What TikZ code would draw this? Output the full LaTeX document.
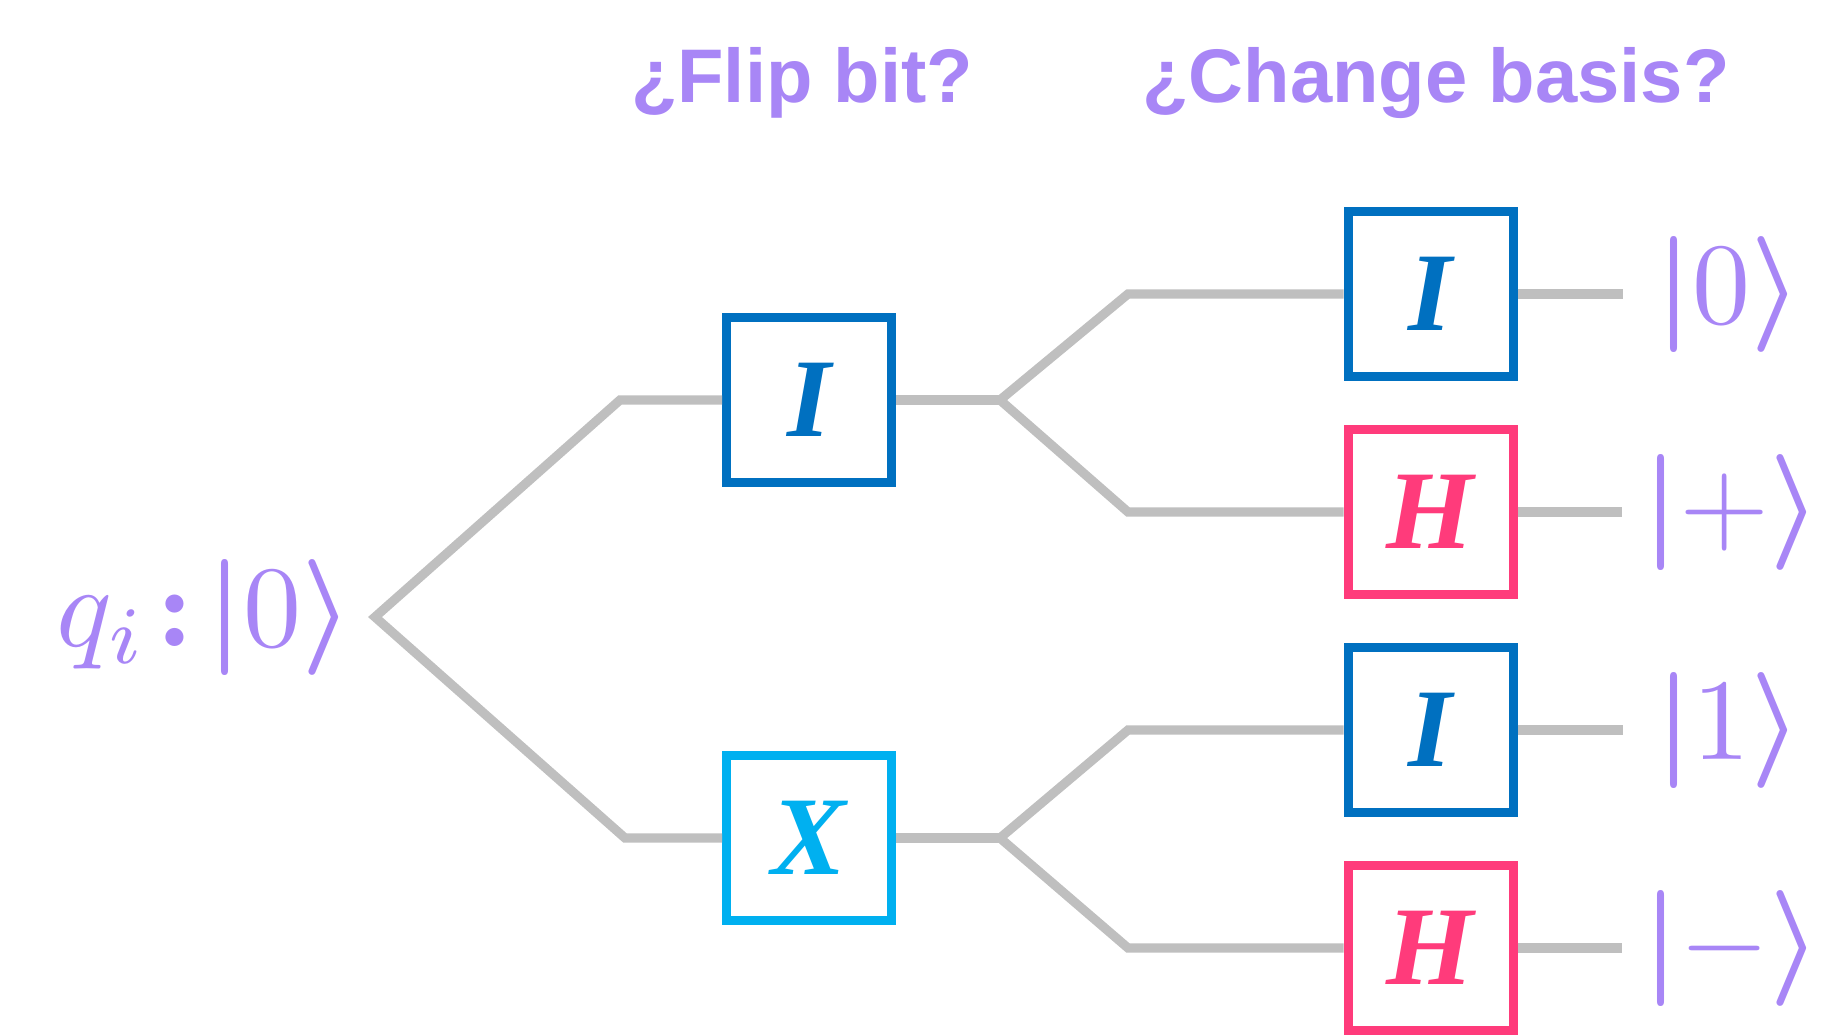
\documentclass[tikz,border=0pt]{standalone}
\usepackage{bm}
\usepackage{fontspec}
\newfontfamily\titlefont{Liberation Sans}
\newfontfamily\gatefont{Liberation Serif}
\definecolor{qpurple}{HTML}{A886F6}
\definecolor{wiregrey}{HTML}{BFBFBF}
\definecolor{gateblue}{HTML}{0070C0}
\definecolor{gatecyan}{HTML}{00B0F0}
\definecolor{gatepink}{HTML}{FF3B7B}
\newcommand{\myket}[1]{\bm{|}#1\bm{\rangle}}
\begin{document}
\begin{tikzpicture}[x=0.5pt,y=-0.5pt,
  wire/.style={draw=wiregrey,line width=4.6pt,line join=miter},
  gate/.style={draw=#1,line width=4.5pt,fill=white,minimum width=82.5pt,minimum height=82.5pt,inner sep=0pt,
    font=\gatefont\bfseries\itshape\fontsize{56}{60}\selectfont,text=#1},
  ket/.style={text=qpurple,scale=5.8,inner sep=0pt,anchor=west},
  title/.style={text=qpurple,font=\titlefont\bfseries\fontsize{38}{46}\selectfont,anchor=base,inner sep=0pt}]
\useasboundingbox (0,0) rectangle (1824,1035);
% titles
\node[title] (t1) at (802,102) {¿Flip bit?};
\node[title] (t2) at (1436,102) {¿Change basis?};
% gates
\node[gate=gateblue] (I1) at (809,400) {I};
\node[gate=gatecyan] (X) at (809,838) {X};
\node[gate=gateblue] (I2) at (1430.5,294) {I};
\node[gate=gatepink] (H1) at (1430.5,512) {H};
\node[gate=gateblue] (I3) at (1430.5,730) {I};
\node[gate=gatepink] (H2) at (1430.5,948) {H};
% labels
\node[ket] (q) at (54,617) {$q_i\mskip1.5mu{\bm{:}}\mskip2mu\myket{0}$};
\node[ket] (k1) at (1653,294) {$\myket{0}$};
\node[ket] (k2) at (1640,512) {$\myket{+}$};
\node[ket] (k3) at (1653,730) {$\myket{1}$};
\node[ket] (k4) at (1640,948) {$\myket{-}$};
% wire corners
\coordinate (v) at (375,617);
\coordinate (a1) at (620,400);
\coordinate (a2) at (625,838);
\coordinate (f1) at (1000,400);
\coordinate (f2) at (1000,838);
\coordinate (b1) at (1128,294);
\coordinate (b2) at (1128,512);
\coordinate (b3) at (1128,730);
\coordinate (b4) at (1128,948);
\coordinate (e1) at (1623,294);
\coordinate (e2) at (1622,512);
\coordinate (e3) at (1623,730);
\coordinate (e4) at (1622,948);
% wires
\draw[wire] (I1.west) -- (a1) -- (v) -- (a2) -- (X.west);
\draw[wire] (I1.east) -- (f1);
\draw[wire] (I2.west) -- (b1) -- (f1) -- (b2) -- (H1.west);
\draw[wire] (X.east) -- (f2);
\draw[wire] (I3.west) -- (b3) -- (f2) -- (b4) -- (H2.west);
\draw[wire] (I2.east) -- (e1);
\draw[wire] (H1.east) -- (e2);
\draw[wire] (I3.east) -- (e3);
\draw[wire] (H2.east) -- (e4);
\end{tikzpicture}
\end{document}
